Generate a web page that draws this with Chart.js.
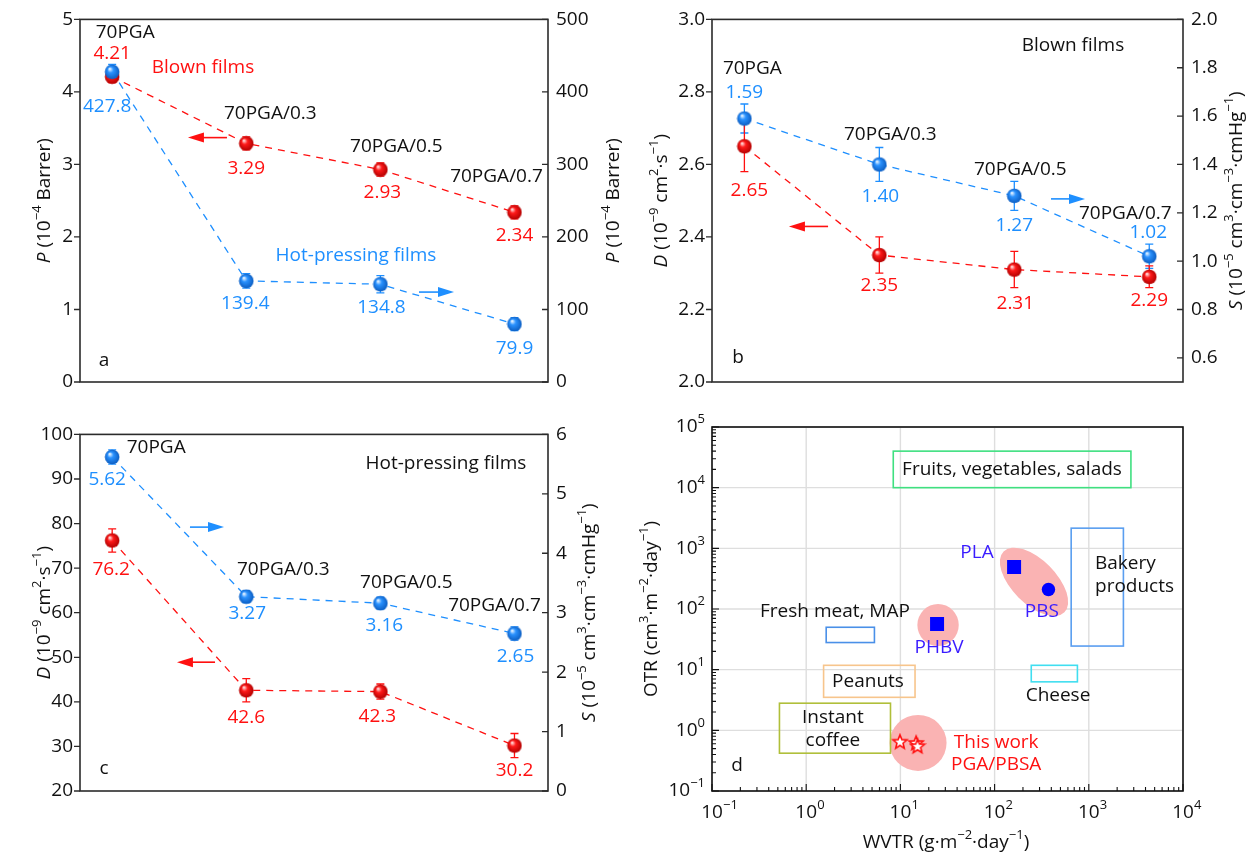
<!DOCTYPE html>
<html lang="en">
<head>
<meta charset="UTF-8">
<title>PGA/PBSA films - permeability, diffusion, solubility</title>
<script src="https://cdn.jsdelivr.net/npm/chart.js"></script>
<style>
  body { margin: 0; background: #fff; width: 1255px; height: 857px; overflow: hidden; position: relative; }
  .panel { position: absolute; }
</style>
</head>
<body>
<div class="panel" style="left:0;top:0"><canvas id="chartA" width="632" height="415"></canvas></div>
<div class="panel" style="left:632px;top:0"><canvas id="chartB" width="623" height="415"></canvas></div>
<div class="panel" style="left:0;top:415px"><canvas id="chartC" width="632" height="442"></canvas></div>
<div class="panel" style="left:632px;top:400px"><canvas id="chartD" width="623" height="457"></canvas></div>
<script>
const FONT = "'Open Sans', sans-serif";
const FS = 19;
const RED = '#ff1010';
const BLUE = '#1e8fff';
const INK = '#111';

// ---- data ----
const samples = ['70PGA', '70PGA/0.3', '70PGA/0.5', '70PGA/0.7'];

// a: permeability, blown (left) and hot-pressing (right)
const permBlown = [4.21, 3.29, 2.93, 2.34];
const permBlownErr = [0.08, 0.09, 0.09, 0.09];
const permHot = [427.8, 139.4, 134.8, 79.9];
const permHotErr = [10, 10, 12, 9];
const ticksA_left = [0, 1, 2, 3, 4, 5];
const ticksA_right = [0, 100, 200, 300, 400, 500];

// b: blown films, D (left) and S (right)
const diffBlown = [2.65, 2.35, 2.31, 2.29];
const diffBlownErr = [0.07, 0.05, 0.05, 0.03];
const solBlown = [1.59, 1.40, 1.27, 1.02];
const solBlownErr = [0.06, 0.07, 0.06, 0.05];
const ticksB_left = [2.0, 2.2, 2.4, 2.6, 2.8, 3.0];
const ticksB_right = [0.6, 0.8, 1.0, 1.2, 1.4, 1.6, 1.8, 2.0];

// c: hot-pressing films, D (left) and S (right)
const diffHot = [76.2, 42.6, 42.3, 30.2];
const diffHotErr = [2.6, 2.6, 1.7, 2.7];
const solHot = [5.62, 3.27, 3.16, 2.65];
const solHotErr = [0.12, 0.10, 0.10, 0.11];
const ticksC_left = [20, 30, 40, 50, 60, 70, 80, 90, 100];
const ticksC_right = [0, 1, 2, 3, 4, 5, 6];

// d: OTR vs WVTR
const polymers = ['PLA', 'PBS', 'PHBV'];
const polymerWVTR = [161, 373, 24.5];
const polymerOTR = [492, 210, 56.6];
const thisWorkWVTR = [9.9, 14.7, 15.2];
const thisWorkOTR = [0.65, 0.62, 0.55];
const foods = ['Fruits, vegetables, salads', 'Bakery products', 'Fresh meat, MAP', 'Peanuts', 'Cheese', 'Instant coffee'];
const foodWVTRmin = [8.4, 650, 1.63, 1.53, 245, 0.52];
const foodWVTRmax = [2800, 2330, 5.3, 14.3, 757, 7.85];
const foodOTRmin = [1e4, 24.5, 28, 3.5, 6.3, 0.42];
const foodOTRmax = [4e4, 2150, 50, 11.8, 11.8, 2.8];
const decadesX = [0.1, 1, 10, 100, 1000, 10000];
const decadesY = [0.1, 1, 10, 100, 1000, 10000, 100000];

Chart.defaults.font.family = FONT;
Chart.defaults.font.size = FS;
Chart.defaults.color = INK;
Chart.defaults.animation = false;

// ---- helpers ----
function sphere(mid, light, dark) {
  const c = document.createElement('canvas');
  c.width = c.height = 16;
  const g = c.getContext('2d');
  const grad = g.createRadialGradient(5.5, 5, 0.5, 8, 8, 7.5);
  grad.addColorStop(0, light);
  grad.addColorStop(0.35, mid);
  grad.addColorStop(1, dark);
  g.fillStyle = grad;
  g.beginPath();
  g.arc(8, 8, 7.3, 0, Math.PI * 2);
  g.fill();
  return c;
}
const redDot = sphere('#ff1a1a', '#ffe0e0', '#b00000');
const blueDot = sphere('#2a92ff', '#e6f3ff', '#0b5cc0');

function starImg() {
  const c = document.createElement('canvas');
  c.width = c.height = 18;
  const g = c.getContext('2d');
  g.translate(9, 9.5);
  g.beginPath();
  for (let k = 0; k < 10; k++) {
    const r = k % 2 ? 3.2 : 7.3;
    const ang = -Math.PI / 2 + k * Math.PI / 5;
    g.lineTo(r * Math.cos(ang), r * Math.sin(ang));
  }
  g.closePath();
  g.fillStyle = '#fff';
  g.fill();
  g.strokeStyle = RED;
  g.lineWidth = 1.6;
  g.stroke();
  return c;
}

function text(ctx, s, x, y, color, align) {
  ctx.font = FS + 'px ' + FONT;
  ctx.fillStyle = color || INK;
  ctx.textAlign = align || 'center';
  ctx.textBaseline = 'middle';
  ctx.fillText(s, x, y);
}

// parts: [string, style]  style 'i' = italic, 's' = superscript
function rich(ctx, parts, x, y, rot, align) {
  const fontOf = p => (p[1] === 'i' ? 'italic ' : '') + (p[1] === 's' ? '13px ' : FS + 'px ') + FONT;
  ctx.save();
  ctx.translate(x, y);
  ctx.rotate(rot || 0);
  let w = 0;
  parts.forEach(p => { ctx.font = fontOf(p); w += ctx.measureText(p[0]).width; });
  let cx = align === 'right' ? -w : -w / 2;
  ctx.textAlign = 'left';
  ctx.textBaseline = 'middle';
  ctx.fillStyle = INK;
  parts.forEach(p => {
    ctx.font = fontOf(p);
    ctx.fillText(p[0], cx, p[1] === 's' ? -7.5 : 0);
    cx += ctx.measureText(p[0]).width;
  });
  ctx.restore();
}

function arrow(ctx, x0, x1, y, color) {
  const dir = Math.sign(x1 - x0);
  ctx.strokeStyle = color;
  ctx.fillStyle = color;
  ctx.lineWidth = 1.6;
  ctx.setLineDash([]);
  ctx.beginPath();
  ctx.moveTo(x0, y);
  ctx.lineTo(x1 - dir * 12, y);
  ctx.stroke();
  ctx.beginPath();
  ctx.moveTo(x1, y);
  ctx.lineTo(x1 - dir * 16, y - 5);
  ctx.lineTo(x1 - dir * 16, y + 5);
  ctx.closePath();
  ctx.fill();
}

const titleP = [['P', 'i'], [' (10', ''], ['\u22124', 's'], [' Barrer)', '']];
const titleD = [['D', 'i'], [' (10', ''], ['\u22129', 's'], [' cm', ''], ['2', 's'], ['\u00b7s', ''], ['\u22121', 's'], [')', '']];
const titleS = [['S', 'i'], [' (10', ''], ['\u22125', 's'], [' cm', ''], ['3', 's'], ['\u00b7cm', ''], ['\u22123', 's'], ['\u00b7cmHg', ''], ['\u22121', 's'], [')', '']];
const titleOTR = [['OTR (cm', ''], ['3', 's'], ['\u00b7m', ''], ['\u22122', 's'], ['\u00b7day', ''], ['\u22121', 's'], [')', '']];
const titleWVTR = [['WVTR (g\u00b7m', ''], ['\u22122', 's'], ['\u00b7day', ''], ['\u22121', 's'], [')', '']];

function xy(vals) { return vals.map((v, i) => ({ x: i, y: v })); }

// ---- panels a, b, c ----
function linePanel(id, o) {
  const yAxis = (pos, ax, width) => ({
    position: pos,
    min: ax.min, max: ax.max,
    afterBuildTicks: s => { s.ticks = ax.ticks.map(v => ({ value: v })); },
    afterFit: s => { s.width = width; },
    grid: { display: false, drawTicks: false },
    border: { display: false },
    ticks: { color: INK, padding: pos === 'left' ? 7 : 8, font: { size: FS }, callback: v => v.toFixed(ax.dec) }
  });
  const series = (vals, err, axis, color, dot) => ({
    data: xy(vals), yAxisID: axis, err: err,
    showLine: true, borderColor: color, borderWidth: 1.3, borderDash: [7, 6],
    pointStyle: dot, pointRadius: 7, tension: 0
  });
  return new Chart(document.getElementById(id), {
    type: 'scatter',
    data: {
      datasets: [
        series(o.blue, o.blueErr, 'yR', BLUE, blueDot),
        series(o.red, o.redErr, 'yL', RED, redDot)
      ]
    },
    options: {
      responsive: false,
      layout: { padding: { top: o.top, bottom: o.bottom, left: 0, right: 0 } },
      plugins: { legend: { display: false }, tooltip: { enabled: false } },
      scales: {
        x: { type: 'linear', min: -0.24, max: 3.25, display: false },
        yL: yAxis('left', o.left, 80),
        yR: yAxis('right', o.right, o.rightWidth)
      }
    },
    plugins: [{
      id: 'decor',
      beforeDatasetsDraw(chart) {
        const ctx = chart.ctx;
        ctx.save();
        chart.data.datasets.forEach(ds => {
          const ys = chart.scales[ds.yAxisID];
          ctx.strokeStyle = ds.borderColor;
          ctx.lineWidth = 1.3;
          ctx.setLineDash([]);
          ds.data.forEach((p, i) => {
            const x = chart.scales.x.getPixelForValue(p.x);
            const y1 = ys.getPixelForValue(p.y + ds.err[i]);
            const y2 = ys.getPixelForValue(p.y - ds.err[i]);
            ctx.beginPath();
            ctx.moveTo(x, y1); ctx.lineTo(x, y2);
            ctx.moveTo(x - 4, y1); ctx.lineTo(x + 4, y1);
            ctx.moveTo(x - 4, y2); ctx.lineTo(x + 4, y2);
            ctx.stroke();
          });
        });
        ctx.restore();
      },
      afterDatasetsDraw(chart) {
        const { ctx, chartArea: a } = chart;
        const sx = chart.scales.x, yl = chart.scales.yL, yr = chart.scales.yR;
        ctx.save();
        ctx.setLineDash([]);
        // frame + ticks
        ctx.strokeStyle = '#2b2b2b';
        ctx.lineWidth = 1.6;
        ctx.strokeRect(a.left, a.top, a.right - a.left, a.bottom - a.top);
        ctx.lineWidth = 1.3;
        ctx.beginPath();
        yl.ticks.forEach(t => { const y = yl.getPixelForValue(t.value); ctx.moveTo(a.left - 6, y); ctx.lineTo(a.left, y); });
        yr.ticks.forEach(t => { const y = yr.getPixelForValue(t.value); ctx.moveTo(a.right - 6, y); ctx.lineTo(a.right, y); });
        ctx.stroke();
        // value labels and sample names
        const pts = chart.data.datasets.map(ds => ds.data.map(p => ({
          x: sx.getPixelForValue(p.x), y: chart.scales[ds.yAxisID].getPixelForValue(p.y), v: p.y
        })));
        const [bluePts, redPts] = pts;
        bluePts.forEach((p, i) => text(ctx, p.v.toFixed(o.right.vdec), p.x + o.blueOff[i][0], p.y + o.blueOff[i][1], BLUE));
        redPts.forEach((p, i) => text(ctx, p.v.toFixed(o.left.vdec), p.x + o.redOff[i][0], p.y + o.redOff[i][1], RED));
        const anchor = o.catAnchor === 'red' ? redPts : bluePts;
        samples.forEach((s, i) => text(ctx, s, anchor[i].x + o.catOff[i][0], anchor[i].y + o.catOff[i][1], INK));
        // free notes and arrows (placed in data units of x and left axis)
        o.notes.forEach(n => text(ctx, n[0], sx.getPixelForValue(n[1]), yl.getPixelForValue(n[2]), n[3]));
        o.arrows.forEach(r => arrow(ctx, sx.getPixelForValue(r[0]), sx.getPixelForValue(r[1]), yl.getPixelForValue(r[2]), r[3]));
        // axis titles
        const mid = (a.top + a.bottom) / 2;
        rich(ctx, o.titleL, o.titleLx, mid, -Math.PI / 2);
        rich(ctx, o.titleR, o.titleRx, mid, -Math.PI / 2);
        ctx.restore();
      }
    }]
  });
}

linePanel('chartA', {
  red: permBlown, redErr: permBlownErr, blue: permHot, blueErr: permHotErr,
  left: { min: 0, max: 5, ticks: ticksA_left, dec: 0, vdec: 2 },
  right: { min: 0, max: 500, ticks: ticksA_right, dec: 0, vdec: 1 },
  rightWidth: 84, top: 18, bottom: 33,
  redOff: [[0, -23], [0, 25], [2, 23], [0, 23]],
  blueOff: [[-5, 35], [-1, 23], [1, 23], [0, 25]],
  catAnchor: 'red', catOff: [[13, -44], [24, -30], [16, -23], [-18, -36]],
  notes: [['Blown films', 0.677, 4.33, RED], ['Hot-pressing films', 1.818, 1.745, BLUE], ['a', -0.061, 0.30, INK]],
  arrows: [[0.856, 0.565, 3.37, RED], [2.288, 2.549, 1.24, BLUE]],
  titleL: titleP, titleLx: 45, titleR: titleP, titleRx: 614
});

linePanel('chartB', {
  red: diffBlown, redErr: diffBlownErr, blue: solBlown, blueErr: solBlownErr,
  left: { min: 2.0, max: 3.0, ticks: ticksB_left, dec: 1, vdec: 2 },
  right: { min: 0.5, max: 2.0, ticks: ticksB_right, dec: 1, vdec: 2 },
  rightWidth: 72, top: 18, bottom: 33,
  redOff: [[5, 44], [0, 31], [1, 34], [0, 24]],
  blueOff: [[0, -26], [1, 32], [0, 30], [-1, -24]],
  catAnchor: 'blue', catOff: [[8, -50], [11, -30], [6, -26], [-24, -43]],
  notes: [['Blown films', 2.435, 2.929, INK], ['b', -0.047, 2.066, INK]],
  arrows: [[0.62, 0.33, 2.429, RED], [2.272, 2.524, 2.505, BLUE]],
  titleL: titleD, titleLx: 30, titleR: titleS, titleRx: 605
});

linePanel('chartC', {
  red: diffHot, redErr: diffHotErr, blue: solHot, blueErr: solHotErr,
  left: { min: 20, max: 100, ticks: ticksC_left, dec: 0, vdec: 1 },
  right: { min: 0, max: 6, ticks: ticksC_right, dec: 0, vdec: 2 },
  rightWidth: 84, top: 12, bottom: 66,
  redOff: [[-1, 29], [0, 27], [-3, 25], [0, 25]],
  blueOff: [[-5, 23], [1, 17], [4, 22], [1, 23]],
  catAnchor: 'blue', catOff: [[44, -9], [37, -27], [26, -21], [-20, -28]],
  notes: [['Hot-pressing films', 2.489, 93.4, INK], ['c', -0.061, 25.1, INK]],
  arrows: [[0.58, 0.834, 79.2, BLUE], [0.767, 0.483, 48.9, RED]],
  titleL: titleD, titleLx: 45, titleR: titleS, titleRx: 590
});

// ---- panel d ----
const foodColors = ['#3fe080', '#5a9ef0', '#4a90e8', '#f7c58c', '#40def0', '#b0bf3a'];
// food labels: [line, WVTR, OTR, align]
const foodLabels = [
  ['Fruits, vegetables, salads', 153, 19500, 'center'],
  ['Bakery', 1164, 552, 'left'], ['products', 1164, 231, 'left'],
  ['Fresh meat, MAP', 2.02, 89, 'center'],
  ['Peanuts', 4.53, 6.27, 'center'],
  ['Cheese', 471, 3.68, 'center'],
  ['Instant', 1.92, 1.6, 'center'], ['coffee', 1.92, 0.69, 'center']
];
const polymerLabelPos = [[65, 838], [318, 89], [25.7, 22.7]];
// shaded ellipses: [WVTR, OTR, rx px, ry px, rotation]
const blobs = [[25.1, 54.5, 20.7, 21, 0], [262, 280, 43, 22, 45], [15.4, 0.62, 28.5, 28, 0]];
const expo = v => { const e = Math.round(Math.log10(v)); return (e < 0 ? '\u2212' : '') + Math.abs(e); };

new Chart(document.getElementById('chartD'), {
  type: 'scatter',
  data: {
    datasets: [
      {
        data: polymerWVTR.map((x, i) => ({ x: x, y: polymerOTR[i] })),
        pointStyle: ['rect', 'circle', 'rect'], pointRadius: [9.9, 6.7, 9.9],
        backgroundColor: '#0000ff', borderWidth: 0
      },
      {
        data: thisWorkWVTR.map((x, i) => ({ x: x, y: thisWorkOTR[i] })),
        pointStyle: starImg(), pointRadius: 8
      }
    ]
  },
  options: {
    responsive: false,
    layout: { padding: { top: 27, right: 72, left: 0, bottom: 0 } },
    plugins: { legend: { display: false }, tooltip: { enabled: false } },
    scales: {
      x: {
        type: 'logarithmic', min: 0.1, max: 10000,
        afterFit: s => { s.height = 66; },
        grid: { display: false, drawTicks: false }, border: { display: false }, ticks: { display: false }
      },
      y: {
        type: 'logarithmic', min: 0.1, max: 100000,
        afterFit: s => { s.width = 80; },
        grid: { display: false, drawTicks: false }, border: { display: false }, ticks: { display: false }
      }
    }
  },
  plugins: [{
    id: 'decorD',
    beforeDatasetsDraw(chart) {
      const { ctx, chartArea: a, scales: { x, y } } = chart;
      ctx.save();
      // grid
      ctx.strokeStyle = '#dedede';
      ctx.lineWidth = 1.4;
      ctx.beginPath();
      decadesX.forEach(v => { const px = x.getPixelForValue(v); ctx.moveTo(px, a.top); ctx.lineTo(px, a.bottom); });
      decadesY.forEach(v => { const py = y.getPixelForValue(v); ctx.moveTo(a.left, py); ctx.lineTo(a.right, py); });
      ctx.stroke();
      // shaded regions
      ctx.fillStyle = '#fab3b3';
      blobs.forEach(b => {
        ctx.beginPath();
        ctx.ellipse(x.getPixelForValue(b[0]), y.getPixelForValue(b[1]), b[2], b[3], b[4] * Math.PI / 180, 0, Math.PI * 2);
        ctx.fill();
      });
      // food requirement boxes
      ctx.lineWidth = 1.6;
      foods.forEach((f, i) => {
        const x0 = x.getPixelForValue(foodWVTRmin[i]), x1 = x.getPixelForValue(foodWVTRmax[i]);
        const y0 = y.getPixelForValue(foodOTRmax[i]), y1 = y.getPixelForValue(foodOTRmin[i]);
        ctx.strokeStyle = foodColors[i];
        ctx.strokeRect(x0, y0, x1 - x0, y1 - y0);
      });
      foodLabels.forEach(l => text(ctx, l[0], x.getPixelForValue(l[1]), y.getPixelForValue(l[2]), INK, l[3]));
      polymers.forEach((p, i) => text(ctx, p, x.getPixelForValue(polymerLabelPos[i][0]), y.getPixelForValue(polymerLabelPos[i][1]), '#3a1cff'));
      text(ctx, 'This work', x.getPixelForValue(104), y.getPixelForValue(0.62), RED);
      text(ctx, 'PGA/PBSA', x.getPixelForValue(104), y.getPixelForValue(0.27), RED);
      text(ctx, 'd', x.getPixelForValue(0.184), y.getPixelForValue(0.258), INK);
      ctx.restore();
    },
    afterDatasetsDraw(chart) {
      const { ctx, chartArea: a, scales: { x, y } } = chart;
      ctx.save();
      ctx.strokeStyle = '#111';
      ctx.lineWidth = 1.6;
      ctx.strokeRect(a.left, a.top, a.right - a.left, a.bottom - a.top);
      // inward ticks, major and minor
      ctx.lineWidth = 1.1;
      ctx.beginPath();
      decadesX.forEach((v, k) => {
        for (let m = 1; m <= (k < decadesX.length - 1 ? 9 : 1); m++) {
          const px = x.getPixelForValue(v * m), len = m === 1 ? 7 : 4;
          ctx.moveTo(px, a.bottom); ctx.lineTo(px, a.bottom - len);
        }
      });
      decadesY.forEach((v, k) => {
        for (let m = 1; m <= (k < decadesY.length - 1 ? 9 : 1); m++) {
          const py = y.getPixelForValue(v * m), len = m === 1 ? 7 : 4;
          ctx.moveTo(a.left, py); ctx.lineTo(a.left + len, py);
        }
      });
      ctx.stroke();
      // tick labels
      decadesX.forEach(v => {
        const px = x.getPixelForValue(v);
        text(ctx, '10', px, a.bottom + 22, INK);
        ctx.font = '13px ' + FONT;
        ctx.textAlign = 'left';
        ctx.fillText(expo(v), px + 11, a.bottom + 14);
      });
      decadesY.forEach(v => rich(ctx, [['10', ''], [expo(v), 's']], a.left - 7, y.getPixelForValue(v), 0, 'right'));
      rich(ctx, titleOTR, 20, (a.top + a.bottom) / 2, -Math.PI / 2);
      rich(ctx, titleWVTR, 314, a.bottom + 52, 0);
      ctx.restore();
    }
  }]
});
</script>
</body>
</html>
